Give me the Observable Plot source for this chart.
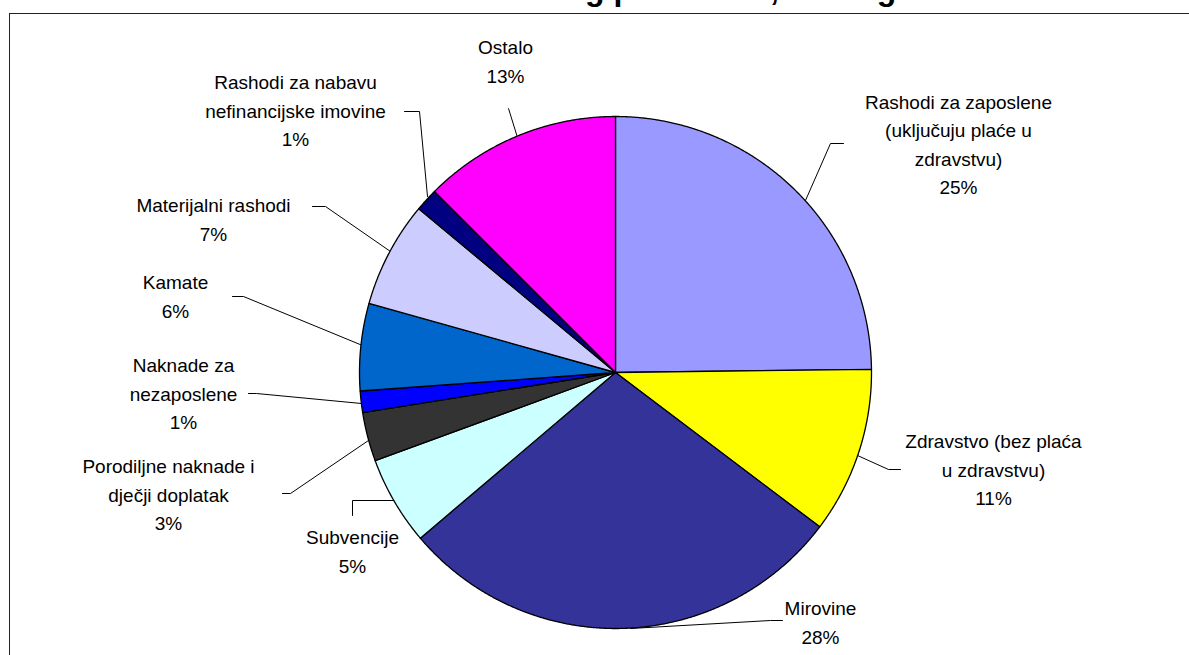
<!DOCTYPE html>
<html><head><meta charset="utf-8">
<script src="https://cdn.jsdelivr.net/npm/d3@7"></script>
<script src="https://cdn.jsdelivr.net/npm/@observablehq/plot@0.6"></script>
<style>
html,body{margin:0;padding:0;background:#fff;overflow:hidden}
#wrap{position:relative;width:1189px;height:655px;overflow:hidden;background:#fff}
#title{position:absolute;left:0;top:-27px;font:bold 32px "Liberation Sans",Arial,sans-serif;line-height:32px;white-space:nowrap;color:#000}
#frame{position:absolute;left:9px;top:13px;width:1300px;height:800px;border:1.5px solid #222;box-sizing:border-box}
#chart{position:absolute;left:0;top:0}
</style></head><body>
<div id="wrap">
<div id="title">Grafikon 1: Struktura rashoda državnog proračuna, 2009. godina</div>
<div id="frame"></div>
<div id="chart"></div>
</div>
<script>
// ---- data ----
const categories = [
  "Rashodi za zaposlene (uključuju plaće u zdravstvu)",
  "Zdravstvo (bez plaća u zdravstvu)",
  "Mirovine",
  "Subvencije",
  "Porodiljne naknade i dječji doplatak",
  "Naknade za nezaposlene",
  "Kamate",
  "Materijalni rashodi",
  "Rashodi za nabavu nefinancijske imovine",
  "Ostalo"
];
const shares = [24.8, 10.5, 28.5, 5.6, 3.1, 1.35, 5.5, 6.7, 1.45, 12.5];
const percentLabels = ["25%", "11%", "28%", "5%", "3%", "1%", "6%", "7%", "1%", "13%"];
const labelText = [
  "Rashodi za zaposlene\n(uključuju plaće u\nzdravstvu)",
  "Zdravstvo (bez plaća\nu zdravstvu)",
  "Mirovine",
  "Subvencije",
  "Porodiljne naknade i\ndječji doplatak",
  "Naknade za\nnezaposlene",
  "Kamate",
  "Materijalni rashodi",
  "Rashodi za nabavu\nnefinancijske imovine",
  "Ostalo"
];
const sliceColors = ["#9999FF","#FFFF00","#333399","#CCFFFF","#333333","#0000FF","#0066CC","#CCCCFF","#000080","#FF00FF"];

// ---- layout (pie centre / radius in pixels, label placement) ----
const CX = 615, CY = 372, R = 256, W = 1189, H = 655;
const u = (px, py) => [(px - CX) / R, (CY - py) / R];
const labelCenters = [[958,142],[993,467],[820,620],[352,549],[168,492],[183,391],[175,294],[213,217],[295,108],[505,59]];
const leaders = [
  [[843,143],[830,143],[805,200]],
  [[900,469],[888,469],[857,455]],
  [[782,620],[770,620],[630,628]],
  [[352,515],[352,500],[394,500]],
  [[282,493],[290,493],[368,440]],
  [[248,393],[256,393],[361,403]],
  [[232,296],[243,296],[362,345]],
  [[312,206],[325,206],[390,251]],
  [[404,111],[419,111],[427,196]],
  [[508,108],[508,108],[517,137]]
];

// ---- build slice polygons from the shares ----
const total = d3.sum(shares);
const slicePts = [];
let acc = 0;
shares.forEach((v, i) => {
  const a0 = acc / total * 2 * Math.PI;
  acc += v;
  const a1 = acc / total * 2 * Math.PI;
  const n = Math.max(4, Math.ceil((a1 - a0) / (Math.PI / 720)));
  slicePts.push({name: categories[i], color: sliceColors[i], x: 0, y: 0});
  for (let k = 0; k <= n; k++) {
    const a = a0 + (a1 - a0) * k / n;
    slicePts.push({name: categories[i], color: sliceColors[i], x: Math.sin(a), y: Math.cos(a)});
  }
  slicePts.push({name: categories[i], color: sliceColors[i], x: 0, y: 0});
});

const leaderPts = [];
leaders.forEach((pts, i) => pts.forEach(p => { const [x, y] = u(p[0], p[1]); leaderPts.push({name: categories[i], x, y}); }));

const labels = categories.map((c, i) => {
  const [x, y] = u(labelCenters[i][0], labelCenters[i][1]);
  return {name: c, x, y, text: labelText[i] + "\n" + percentLabels[i]};
});

const plot = Plot.plot({
  width: W, height: H,
  margin: 0,
  style: {background: "transparent", fontFamily: "'Liberation Sans', Arial, sans-serif"},
  x: {domain: [-1, 1], range: [CX - R, CX + R], axis: null},
  y: {domain: [-1, 1], range: [CY + R, CY - R], axis: null},
  color: {type: "identity"},
  marks: [
    Plot.line(leaderPts, {x: "x", y: "y", z: "name", stroke: "#000", strokeWidth: 1, curve: "linear"}),
    Plot.line(slicePts, {x: "x", y: "y", z: "name", fill: "color", stroke: "#000", strokeWidth: 1.3, strokeLinejoin: "round", curve: "linear"}),
    Plot.text(labels, {x: "x", y: "y", text: "text", fontSize: 19, lineHeight: 1.48, fill: "#000", textAnchor: "middle", frameAnchor: "middle"})
  ]
});
document.getElementById("chart").appendChild(plot);
</script>
</body></html>
